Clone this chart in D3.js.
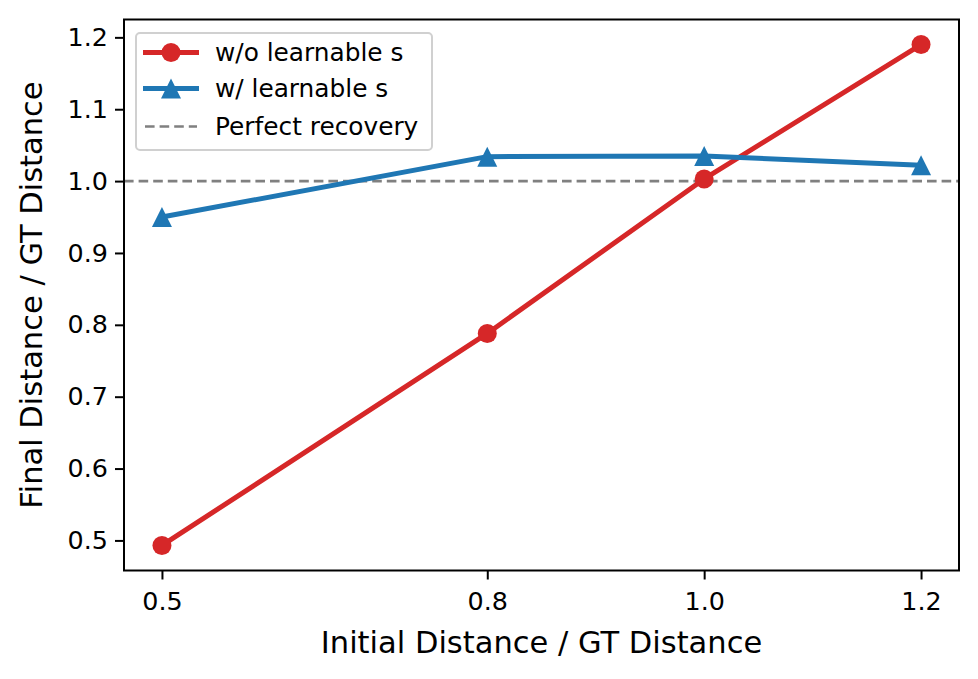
<!DOCTYPE html>
<html>
<head>
<meta charset="utf-8">
<script src="https://cdn.jsdelivr.net/npm/d3@7"></script>
<style>
  body { margin: 0; background: #fff; }
  text { font-family: "DejaVu Sans", sans-serif; }
</style>
</head>
<body>
<div id="chart"></div>
<script>
// data
const initRatio = [0.5, 0.8, 1.0, 1.2]
const woLearnable = [0.493, 0.788, 1.003, 1.190]
const wLearnable = [0.950, 1.034, 1.035, 1.022]
const yTicks = [0.5, 0.6, 0.7, 0.8, 0.9, 1.0, 1.1, 1.2]
const seriesNames = ["w/o learnable s", "w/ learnable s", "Perfect recovery"]

const width = 978, height = 679
const margin = { top: 19.5, right: 19, bottom: 108.5, left: 124 }

const svg = d3.select("#chart").append("svg")
  .attr("width", width)
  .attr("height", height)

// matplotlib style 5% padding
const xPad = (d3.max(initRatio) - d3.min(initRatio)) * 0.05
const allY = woLearnable.concat(wLearnable)
const yPad = (d3.max(allY) - d3.min(allY)) * 0.05

const x = d3.scaleLinear()
  .domain([d3.min(initRatio) - xPad, d3.max(initRatio) + xPad])
  .range([margin.left, width - margin.right])
const y = d3.scaleLinear()
  .domain([d3.min(allY) - yPad, d3.max(allY) + yPad])
  .range([height - margin.bottom, margin.top])

// axes
svg.append("g")
  .attr("transform", `translate(0,${height - margin.bottom})`)
  .call(d3.axisBottom(x).tickValues(initRatio).tickFormat(d3.format(".1f")).tickSize(9).tickPadding(12.5))
svg.append("g")
  .attr("transform", `translate(${margin.left},0)`)
  .call(d3.axisLeft(y).tickValues(yTicks).tickFormat(d3.format(".1f")).tickSize(9).tickPadding(7))

svg.selectAll(".domain").remove()
svg.selectAll(".tick line").attr("stroke", "#000").attr("stroke-width", 2)
svg.selectAll(".tick text")
  .style("font-family", "DejaVu Sans")
  .style("font-size", "25.4px")
  .attr("fill", "#000")

// reference line
svg.append("line")
  .attr("x1", margin.left).attr("x2", width - margin.right)
  .attr("y1", y(1.0)).attr("y2", y(1.0))
  .attr("stroke", "#808080")
  .attr("stroke-width", 2.6)
  .attr("stroke-dasharray", "9.6,5")

const red = "#d62728", blue = "#1f77b4"
const line = d3.line().x(d => x(d[0])).y(d => y(d[1]))

// matplotlib '^' marker: width = height
const triSize = 20
const triangle = `M0,${-triSize / 2}L${triSize / 2},${triSize / 2}L${-triSize / 2},${triSize / 2}Z`

// w/o learnable s
svg.append("path")
  .datum(d3.zip(initRatio, woLearnable))
  .attr("d", line)
  .attr("fill", "none")
  .attr("stroke", red)
  .attr("stroke-width", 5)
  .attr("stroke-linejoin", "round")
svg.append("g").selectAll("circle")
  .data(d3.zip(initRatio, woLearnable))
  .join("circle")
  .attr("cx", d => x(d[0]))
  .attr("cy", d => y(d[1]))
  .attr("r", 9.5)
  .attr("fill", red)

// w/ learnable s
svg.append("path")
  .datum(d3.zip(initRatio, wLearnable))
  .attr("d", line)
  .attr("fill", "none")
  .attr("stroke", blue)
  .attr("stroke-width", 5)
  .attr("stroke-linejoin", "round")
svg.append("g").selectAll("path")
  .data(d3.zip(initRatio, wLearnable))
  .join("path")
  .attr("d", triangle)
  .attr("transform", d => `translate(${x(d[0])},${y(d[1])})`)
  .attr("fill", blue)

// frame
svg.append("rect")
  .attr("x", margin.left).attr("y", margin.top)
  .attr("width", width - margin.left - margin.right)
  .attr("height", height - margin.top - margin.bottom)
  .attr("fill", "none")
  .attr("stroke", "#000")
  .attr("stroke-width", 2)

// axis labels
svg.append("text")
  .attr("x", (margin.left + width - margin.right) / 2)
  .attr("y", 653)
  .attr("text-anchor", "middle")
  .style("font-size", "30.5px")
  .text("Initial Distance / GT Distance")
svg.append("text")
  .attr("transform", `translate(42,${(margin.top + height - margin.bottom) / 2}) rotate(-90)`)
  .attr("text-anchor", "middle")
  .style("font-size", "30.5px")
  .text("Final Distance / GT Distance")

// legend
const legend = svg.append("g").attr("transform", "translate(136,33)")
legend.append("rect")
  .attr("width", 296).attr("height", 117)
  .attr("rx", 4).attr("ry", 4)
  .attr("fill", "#fff").attr("fill-opacity", 0.8)
  .attr("stroke", "#d0d0d0").attr("stroke-width", 2)

const rows = [19.5, 55.5, 93.5]
seriesNames.forEach(function(name, i) {
  const row = legend.append("g").attr("transform", `translate(0,${rows[i]})`)
  if (i < 2) {
    row.append("line")
      .attr("x1", 7).attr("x2", 63)
      .attr("stroke", i == 0 ? red : blue)
      .attr("stroke-width", 5)
    if (i == 0) {
      row.append("circle").attr("cx", 35).attr("cy", 0).attr("r", 9.5).attr("fill", red)
    } else {
      row.append("path").attr("d", triangle).attr("transform", "translate(35,0)").attr("fill", blue)
    }
  } else {
    row.append("line")
      .attr("x1", 9).attr("x2", 61)
      .attr("stroke", "#808080")
      .attr("stroke-width", 2.6)
      .attr("stroke-dasharray", "9.6,5")
  }
  row.append("text")
    .attr("x", 79).attr("y", 0)
    .attr("dy", "0.35em")
    .style("font-size", "24.8px")
    .text(name)
})
</script>
</body>
</html>
